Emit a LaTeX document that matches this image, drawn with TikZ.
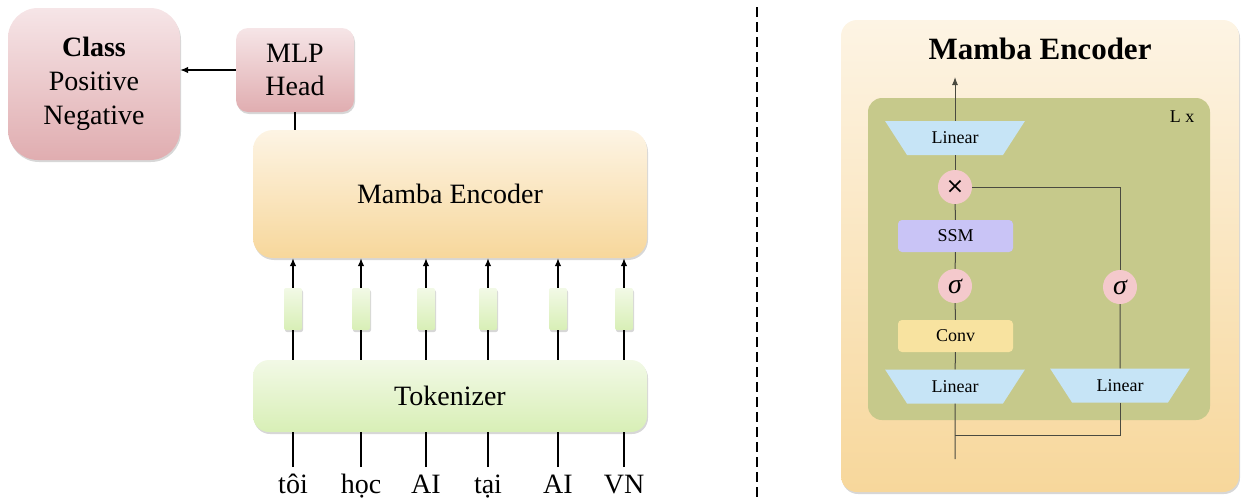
\documentclass[tikz,border=0pt]{standalone}
\usepackage{fontspec}
\setmainfont{Liberation Serif}
\newfontfamily\dejavu{DejaVu Sans}
\usetikzlibrary{shapes.geometric,shadows,arrows.meta}
\definecolor{pinktop}{HTML}{F6E5E7}
\definecolor{pinkbot}{HTML}{E0ADB0}
\definecolor{enctop}{HTML}{FDF4E4}
\definecolor{encbot}{HTML}{F7D79B}
\definecolor{toktop}{HTML}{F2F9E6}
\definecolor{tokbot}{HTML}{D8EFB6}
\definecolor{innergreen}{HTML}{C6C98B}
\definecolor{linblue}{HTML}{C6E4F6}
\definecolor{circpink}{HTML}{F4C9CC}
\definecolor{ssmcol}{HTML}{C9C4F6}
\definecolor{convcol}{HTML}{F8E3A0}
\definecolor{linegray}{HTML}{4A4A40}
\tikzset{
  shad/.style={drop shadow={shadow xshift=1pt,shadow yshift=-2pt,opacity=0.35,fill=black!45}},
  big/.style={font=\fontsize{28}{34}\selectfont},
  pinkbox/.style={shad,rounded corners=#1,top color=pinktop,bottom color=pinkbot,align=center,big,inner sep=0pt},
  encbox/.style={shad,rounded corners=20pt,top color=enctop,bottom color=encbot,big},
  tokbox/.style={shad,rounded corners=16pt,top color=toktop,bottom color=tokbot,big},
  embbox/.style={shad,rounded corners=2pt,top color=toktop,bottom color=tokbot,minimum width=18pt,minimum height=42pt,inner sep=0pt},
  word/.style={big,inner sep=0pt,text height=26pt,text depth=7pt,anchor=north},
  conn/.style={line width=1.2pt,black},
  arr/.style={conn,-{Latex[length=8pt,width=6.5pt]}},
  small/.style={font=\fontsize{18}{20}\selectfont},
  lin/.style={trapezium,trapezium left angle=51.5,trapezium right angle=51.5,shape border rotate=180,
    trapezium stretches=true,minimum width=140pt,minimum height=34pt,fill=linblue,inner sep=1pt,small},
  circ/.style={circle,fill=circpink,minimum size=34pt,inner sep=0pt,font=\fontsize{28}{30}\selectfont},
  rbox/.style={rounded corners=4pt,minimum width=115pt,minimum height=32pt,inner sep=0pt,small},
  rline/.style={line width=1pt,linegray},
}
\begin{document}
\begin{tikzpicture}[x=1pt,y=-1pt]
\useasboundingbox (0,0) rectangle (1241,499);
% ---------- left ----------
\node[pinkbox=30pt,minimum width=172pt,minimum height=152pt] (cls) at (94,84)
  {\textbf{Class}\\Positive\\Negative};
\node[pinkbox=12pt,minimum width=118pt,minimum height=84pt,font=\fontsize{28}{33}\selectfont] (mlp) at (295,70) {MLP\\Head};
\node[encbox,minimum width=394pt,minimum height=128pt] (enc) at (450,194) {Mamba Encoder};
\node[tokbox,minimum width=394pt,minimum height=72pt] (tok) at (450,396) {Tokenizer};

\draw[arr] (mlp.west) -- (mlp.west -| cls.east);
\draw[conn] (mlp.south) -- (mlp.south |- enc.north);

\foreach \i/\x/\w in {1/293/tôi,2/361/học,3/426/AI,4/488/tại,5/558/AI,6/624/VN}{
  \node[embbox] (e\i) at (\x,309) {};
  \node[word] (w\i) at (\x,467) {\w};
  \draw[arr] (e\i.north) -- (e\i.north |- enc.south);
  \draw[conn] (e\i.south |- tok.north) -- (e\i.south);
  \draw[conn] (w\i.north) -- (w\i.north |- tok.south);
}

% dashed separator
\coordinate (d1) at (757,7);
\coordinate (d2) at (757,497);
\draw[line width=1.3pt,dash pattern=on 10pt off 5pt] (d1) -- (d2);

% ---------- right ----------
\node[shad,rounded corners=16pt,top color=enctop,bottom color=encbot,minimum width=398pt,minimum height=472pt] (outer) at (1040,256) {};
\node[font=\fontsize{31}{34}\selectfont\bfseries] (title) at (1040,49) {Mamba Encoder};
\node[rounded corners=14pt,fill=innergreen,minimum width=342pt,minimum height=322pt] (inner) at (1039,259) {};
\node[small] (lx) at (1182,117) {L x};

\node[lin] (l1) at (955,138) {Linear};
\node[circ] (mul) at (955,187) {{\dejavu\fontsize{22}{24}\selectfont ×}};
\node[rbox,fill=ssmcol] (ssm) at (955.5,236) {SSM};
\node[circ] (s1) at (955,286) {\itshape σ};
\node[rbox,fill=convcol] (conv) at (955.5,336) {Conv};
\node[lin] (l2) at (955,386.5) {Linear};
\node[circ] (s2) at (1120,287) {\itshape σ};
\node[lin] (l3) at (1120,385.5) {Linear};

\coordinate (out) at (955,77);
\coordinate (j) at (955,435);
\coordinate (bot) at (955,459);

\draw[rline,-{Latex[length=8pt,width=6pt]}] (l1) -- (out);
\draw[rline] (mul) -- (l1);
\draw[rline] (ssm) -- (mul);
\draw[rline] (s1) -- (ssm);
\draw[rline] (conv) -- (s1);
\draw[rline] (l2) -- (conv);
\draw[rline] (mul) -| (s2);
\draw[rline] (s2) -- (l3);
\draw[rline] (l2) -- (bot);
\draw[rline] (l3) |- (j);
\end{tikzpicture}
\end{document}
